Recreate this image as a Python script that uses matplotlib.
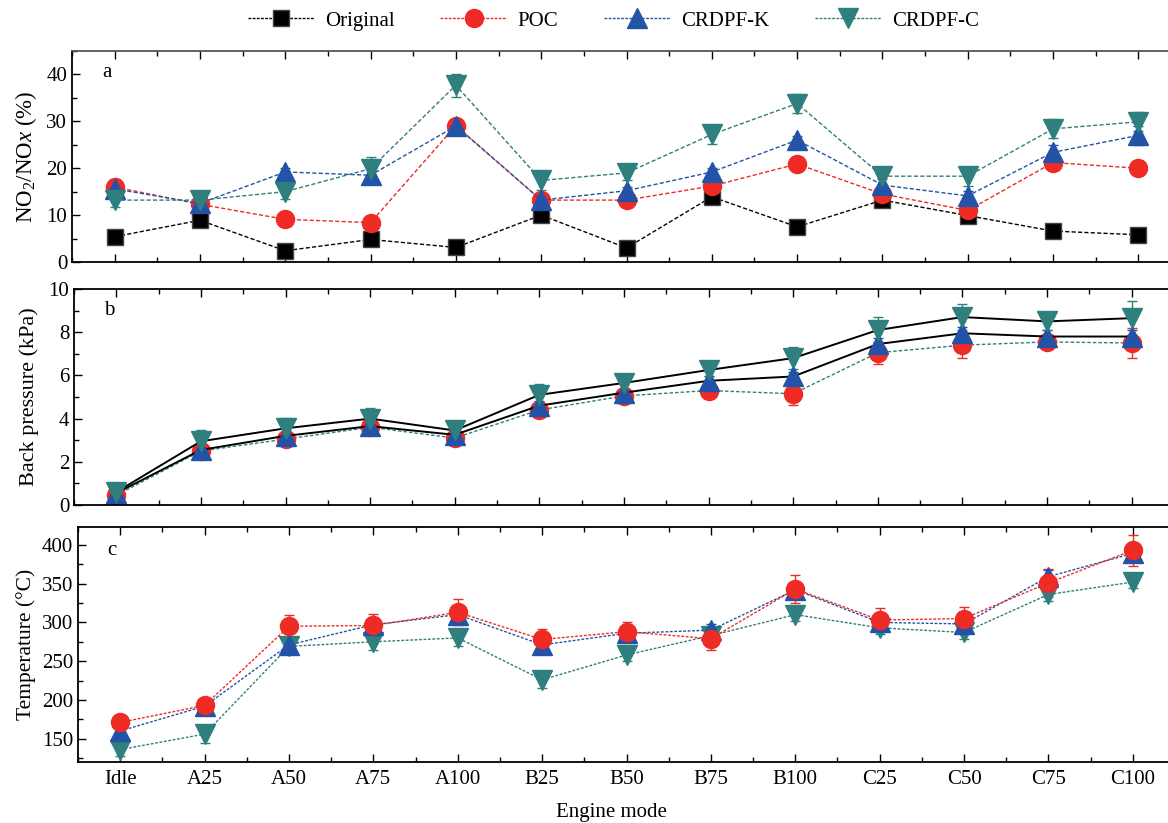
import numpy as np
import matplotlib
matplotlib.use("Agg")
import matplotlib.pyplot as plt
from matplotlib.ticker import MultipleLocator
from matplotlib.lines import Line2D

plt.rcParams['font.family'] = ['Liberation Serif', 'DejaVu Serif']
plt.rcParams['mathtext.fontset'] = 'custom'
plt.rcParams['mathtext.rm'] = 'Liberation Serif'
plt.rcParams['mathtext.it'] = 'Liberation Serif:italic'

modes = ["Idle", "A25", "A50", "A75", "A100", "B25", "B50", "B75",
         "B100", "C25", "C50", "C75", "C100"]

# a: NO2/NOx (%)
no2_orig = [5.4, 8.9, 2.4, 4.8, 3.1, 10.0, 3.0, 13.9, 7.5, 13.2, 9.9, 6.6, 5.8]
no2_poc = [16.0, 12.3, 9.1, 8.4, 29.1, 13.2, 13.2, 16.2, 20.9, 14.5, 11.0, 21.2, 20.0]
no2_k = [15.6, 12.5, 19.2, 18.5, 29.0, 13.2, 15.2, 19.2, 26.0, 16.4, 14.1, 23.4, 27.0]
no2_c = [13.2, 13.2, 15.0, 19.9, 37.7, 17.4, 19.0, 27.2, 33.8, 18.3, 18.3, 28.4, 29.9]
no2_poc_err = [1.0, 1.0, 0.5, 0.5, 1.0, 1.0, 0.5, 0.5, 0.5, 1.0, 1.0, 1.0, 0.5]
no2_k_err = [2.0, 1.5, 0.8, 1.8, 1.5, 1.5, 0.8, 0.8, 0.8, 1.2, 1.0, 1.5, 2.0]
no2_c_err = [1.5, 2.0, 1.5, 2.5, 2.5, 2.0, 1.5, 2.0, 2.0, 2.0, 2.0, 2.0, 2.0]

# b: back pressure (kPa)
bp_poc = [0.45, 2.5, 3.05, 3.6, 3.1, 4.4, 5.05, 5.3, 5.15, 7.05, 7.4, 7.55, 7.5]
bp_k = [0.55, 2.55, 3.2, 3.65, 3.25, 4.6, 5.2, 5.75, 5.95, 7.45, 7.95, 7.8, 7.8]
bp_c = [0.6, 2.95, 3.55, 4.0, 3.45, 5.1, 5.65, 6.25, 6.8, 8.1, 8.7, 8.5, 8.65]
bp_poc_err = [0.2, 0.2, 0.2, 0.2, 0.2, 0.3, 0.2, 0.2, 0.5, 0.5, 0.6, 0.3, 0.7]
bp_k_err = [0.2, 0.2, 0.2, 0.2, 0.2, 0.2, 0.2, 0.2, 0.2, 0.3, 0.3, 0.3, 0.3]
bp_c_err = [0.3, 0.5, 0.5, 0.5, 0.4, 0.5, 0.4, 0.3, 0.5, 0.6, 0.6, 0.4, 0.8]

# c: temperature (degC)
t_poc = [171, 193, 295, 296, 313, 278, 288, 279, 343, 303, 305, 351, 393]
t_k = [160, 192, 271, 297, 310, 271, 286, 290, 342, 300, 298, 359, 389]
t_c = [136, 156, 269, 275, 280, 226, 258, 283, 310, 293, 287, 336, 352]
t_poc_err = [8, 8, 15, 15, 17, 13, 13, 15, 18, 15, 15, 18, 20]
t_k_err = [8, 10, 10, 10, 8, 12, 8, 8, 10, 8, 8, 8, 10]
t_c_err = [8, 12, 8, 10, 10, 10, 8, 8, 8, 8, 8, 8, 8]

black = "black"
red = "#EE2B25"
blue = "#2253A6"
teal = "#2E7F7D"

W, H = 1168, 823
fig = plt.figure(figsize=(W / 100, H / 100), dpi=100)


def px_axes(left, right, top, bottom):
    return fig.add_axes([left / W, 1 - bottom / H, (right - left) / W, (bottom - top) / H])


x = np.arange(len(modes))
ax_a = px_axes(72, 1181, 51, 262)
ax_b = px_axes(74, 1174, 289, 505)
ax_c = px_axes(78, 1175, 527, 762)

dash_a = (0, (3, 1.6))
dash_c = (0, (2, 1.2))
mk = dict(markersize=13, capsize=3.5, elinewidth=1.0, capthick=1.0, lw=1.0)

# panel a
ax_a.plot(x, no2_orig, color=black, ls=dash_a, lw=1.0, marker="s", ms=12,
          mfc=black, mec="#444444")
ax_a.errorbar(x, no2_poc, yerr=no2_poc_err, color=red, ls=dash_a, marker="o",
              mfc=red, mec=red, ecolor=red, **mk)
ax_a.errorbar(x, no2_k, yerr=no2_k_err, color=blue, ls=dash_a, marker="^",
              mfc=blue, mec=blue, ecolor=blue, **dict(mk, markersize=14))
ax_a.errorbar(x, no2_c, yerr=no2_c_err, color=teal, ls=dash_a, marker="v",
              mfc=teal, mec=teal, ecolor=teal, **dict(mk, markersize=14))
ax_a.set_ylim(0, 45)
ax_a.yaxis.set_major_locator(MultipleLocator(10))
ax_a.yaxis.set_minor_locator(MultipleLocator(5))
ax_a.set_ylabel("NO$_2$/NO$\\mathit{x}$ (%)", fontsize=16.5, labelpad=5)

# panel b
ax_b.errorbar(x, bp_poc, yerr=bp_poc_err, color=teal, ls=(0, (2.5, 1.5)), marker="o",
              mfc=red, mec=red, ecolor=red, **mk)
ax_b.errorbar(x, bp_k, yerr=bp_k_err, color=black, ls="-", marker="^",
              mfc=blue, mec=blue, ecolor=blue, **dict(mk, markersize=14, lw=1.4))
ax_b.errorbar(x, bp_c, yerr=bp_c_err, color=black, ls="-", marker="v",
              mfc=teal, mec=teal, ecolor=teal, **dict(mk, markersize=14, lw=1.4))
ax_b.set_ylim(0, 10)
ax_b.yaxis.set_major_locator(MultipleLocator(2))
ax_b.yaxis.set_minor_locator(MultipleLocator(1))
ax_b.set_ylabel("Back pressure (kPa)", fontsize=16, labelpad=7)

# panel c
ax_c.errorbar(x, t_c, yerr=t_c_err, color=teal, ls=dash_c, marker="v",
              mfc=teal, mec=teal, ecolor=teal, **dict(mk, markersize=14))
ax_c.errorbar(x, t_k, yerr=t_k_err, color=blue, ls=dash_c, marker="^",
              mfc=blue, mec=blue, ecolor=blue, **dict(mk, markersize=14))
ax_c.errorbar(x, t_poc, yerr=t_poc_err, color=red, ls=dash_c, marker="o",
              mfc=red, mec=red, ecolor=red, **mk)
ax_c.set_ylim(120, 423)
ax_c.yaxis.set_major_locator(MultipleLocator(50))
ax_c.yaxis.set_minor_locator(MultipleLocator(25))
ax_c.set_ylabel("Temperature (°C)", fontsize=15.5, labelpad=4)
ax_c.set_xlabel("Engine mode", fontsize=15)
ax_c.xaxis.set_label_coords((611 - 78) / (1175 - 78), -(803 - 762) / (762 - 527))

for ax, letter in zip([ax_a, ax_b, ax_c], ["a", "b", "c"]):
    ax.set_xlim(-0.5, 12.5)
    ax.set_xticks(x)
    ax.set_xticklabels(modes)
    ax.xaxis.set_minor_locator(MultipleLocator(0.5))
    ax.tick_params(which="both", direction="in", top=True, right=False,
                   labelsize=15, width=1.0)
    ax.tick_params(which="major", length=6)
    ax.tick_params(which="minor", length=3.5)
    ax.tick_params(axis="x", pad=6)
    for s in ["left", "bottom", "top"]:
        ax.spines[s].set_linewidth(1.3)
    ax.spines["right"].set_visible(False)
    ax.text(0.027, 0.9, letter, transform=ax.transAxes, fontsize=15,
            va="center", ha="left")
    if ax is not ax_c:
        ax.tick_params(axis="x", labelbottom=False)
ax_a.spines["top"].set_color("#555555")

handles = [
    Line2D([], [], color=black, ls=(0, (2, 1)), lw=1.0, marker="s", ms=12, mfc=black, mec="#444444"),
    Line2D([], [], color=red, ls=(0, (2, 1)), lw=1.0, marker="o", ms=13, mfc=red, mec=red),
    Line2D([], [], color=blue, ls=(0, (2, 1)), lw=1.0, marker="^", ms=14, mfc=blue, mec=blue),
    Line2D([], [], color=teal, ls=(0, (2, 1)), lw=1.0, marker="v", ms=14, mfc=teal, mec=teal),
]
fig.legend(handles, ["Original", "POC", "CRDPF-K", "CRDPF-C"], loc="center",
           bbox_to_anchor=(0.525, 1 - 21 / H), ncol=4, frameon=False, fontsize=15,
           handlelength=3.2, columnspacing=2.2, handletextpad=0.5)

fig.savefig("out.png", dpi=100)
